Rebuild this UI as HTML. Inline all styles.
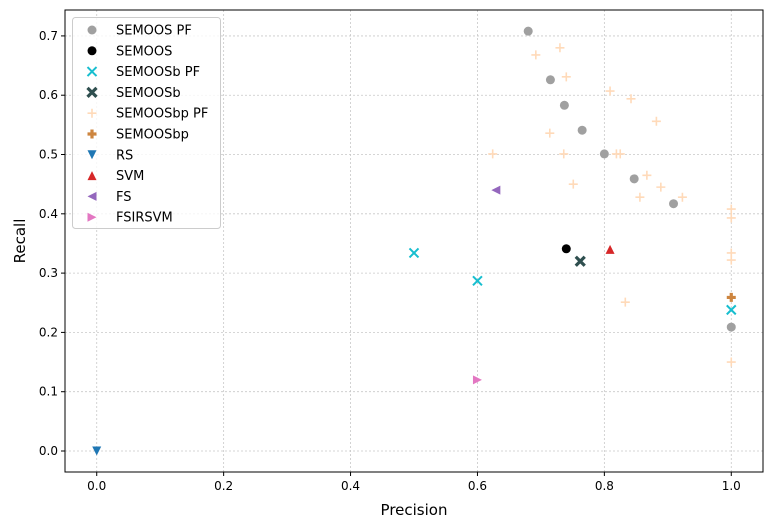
<!DOCTYPE html>
<html><head><meta charset="utf-8"><style>
body{margin:0;background:#fff;}
svg{display:block;font-family:"DejaVu Sans","Liberation Sans",sans-serif;}
</style></head><body>
<svg id="chart" width="772" height="529" xmlns="http://www.w3.org/2000/svg">
<g id="grid"></g>
<g id="marks"></g>
<g id="axes"></g>
<g id="legend"></g>
</svg>
<script>
const xTicks=[0.0,0.2,0.4,0.6,0.8,1.0];
const yTicks=[0.0,0.1,0.2,0.3,0.4,0.5,0.6,0.7];
const seriesNames=["SEMOOS PF","SEMOOS","SEMOOSb PF","SEMOOSb","SEMOOSbp PF","SEMOOSbp","RS","SVM","FS","FSIRSVM"];
const semoosPF=[[0.680,0.708],[0.715,0.626],[0.737,0.583],[0.765,0.541],[0.800,0.501],[0.847,0.459],[0.909,0.417],[1.0,0.209]];
const semoos=[[0.74,0.341]];
const semoosbPF=[[0.5,0.334],[0.6,0.287],[1.0,0.238]];
const semoosb=[[0.762,0.32]];
const semoosbpPF=[[0.692,0.668],[0.730,0.680],[0.740,0.631],[0.809,0.607],[0.842,0.594],[0.882,0.556],[0.714,0.536],[0.624,0.501],[0.736,0.501],[0.819,0.501],[0.825,0.501],[0.751,0.450],[0.867,0.465],[0.889,0.445],[0.856,0.428],[0.923,0.428],[1.0,0.408],[1.0,0.393],[1.0,0.334],[1.0,0.322],[0.833,0.251],[1.0,0.150]];
const semoosbp=[[1.0,0.259]];
const rs=[[0.0,0.0]];
const svm=[[0.809,0.34]];
const fs=[[0.629,0.44]];
const fsirsvm=[[0.6,0.12]];

const NS="http://www.w3.org/2000/svg";
const L=65,R=763,T=10,B=472;
const xMin=-0.05,xMax=1.05,yMin=-0.0354,yMax=0.7437;
const sx=v=>L+(v-xMin)/(xMax-xMin)*(R-L);
const sy=v=>B-(v-yMin)/(yMax-yMin)*(B-T);
function mk(tag,attrs,parent){const e=document.createElementNS(NS,tag);for(const k in attrs)e.setAttribute(k,attrs[k]);parent.appendChild(e);return e;}
const grid=document.getElementById('grid'),axes=document.getElementById('axes'),marks=document.getElementById('marks'),legend=document.getElementById('legend');

xTicks.forEach(t=>{const x=sx(t);
 const g=mk('line',{x1:x,x2:x,y1:T,y2:B,stroke:'#c8c8c8','stroke-dasharray':'2,2','stroke-width':0.8},grid);
 
 mk('line',{x1:x,x2:x,y1:B,y2:B+4,stroke:'#000'},axes);
 const tx=mk('text',{x:x,y:B+18,'text-anchor':'middle','font-size':12},axes);tx.textContent=t.toFixed(1);
 });
yTicks.forEach(t=>{const y=sy(t);
 const g=mk('line',{x1:L,x2:R,y1:y,y2:y,stroke:'#c8c8c8','stroke-dasharray':'2,2','stroke-width':0.8},grid);
 
 mk('line',{x1:L-4,x2:L,y1:y,y2:y,stroke:'#000'},axes);
 const tx=mk('text',{x:L-7,y:y+4,'text-anchor':'end','font-size':12},axes);tx.textContent=t.toFixed(1);
 });
const fr=mk('rect',{x:L,y:T,width:R-L,height:B-T,fill:'none',stroke:'#000','stroke-width':1},axes);

const xl=mk('text',{x:(L+R)/2,y:515,'text-anchor':'middle','font-size':15},axes);xl.textContent='Precision';

const yl=mk('text',{x:0,y:0,'text-anchor':'middle','font-size':15,transform:`translate(25,${(T+B)/2}) rotate(-90)`},axes);yl.textContent='Recall';


function marker(type,color,x,y,parent,alpha){
 let e;const s=4.5;
 if(type==='o')e=mk('circle',{cx:x,cy:y,r:s,fill:color},parent);
 else if(type==='x')e=mk('path',{d:`M${x-s} ${y-s}L${x+s} ${y+s}M${x-s} ${y+s}L${x+s} ${y-s}`,stroke:color,'stroke-width':2,fill:'none'},parent);
 else if(type==='X')e=mk('path',{d:`M${x-s} ${y-s}L${x+s} ${y+s}M${x-s} ${y+s}L${x+s} ${y-s}`,stroke:color,'stroke-width':3.2,fill:'none'},parent);
 else if(type==='+')e=mk('path',{d:`M${x-s} ${y}L${x+s} ${y}M${x} ${y-s}L${x} ${y+s}`,stroke:color,'stroke-width':1.6,fill:'none'},parent);
 else if(type==='P')e=mk('path',{d:`M${x-s} ${y}L${x+s} ${y}M${x} ${y-s}L${x} ${y+s}`,stroke:color,'stroke-width':3.2,fill:'none'},parent);
 else if(type==='v')e=mk('polygon',{points:`${x-s},${y-s} ${x+s},${y-s} ${x},${y+s}`,fill:color},parent);
 else if(type==='^')e=mk('polygon',{points:`${x-s},${y+s} ${x+s},${y+s} ${x},${y-s}`,fill:color},parent);
 else if(type==='<')e=mk('polygon',{points:`${x+s},${y-s} ${x+s},${y+s} ${x-s},${y}`,fill:color},parent);
 else if(type==='>')e=mk('polygon',{points:`${x-s},${y-s} ${x-s},${y+s} ${x+s},${y}`,fill:color},parent);
 if(alpha)e.setAttribute('opacity',alpha);
 return e;}
const styles=[['o','#a0a0a0'],['o','#000'],['x','#17becf'],['X','#2f4f4f'],['+','#ffdab9'],['P','#cd853f'],['v','#1f77b4'],['^','#d62728'],['<','#9467bd'],['>','#e377c2']];
const allData=[semoosPF,semoos,semoosbPF,semoosb,semoosbpPF,semoosbp,rs,svm,fs,fsirsvm];
allData.forEach((arr,i)=>{arr.forEach(p=>{
 const e=marker(styles[i][0],styles[i][1],sx(p[0]),sy(p[1]),marks);
 
 });});

const lb=mk('rect',{x:72.5,y:17.5,width:148,height:211,rx:3,fill:'#fff','fill-opacity':0.8,stroke:'#ccc'},legend);

seriesNames.forEach((n,i)=>{const y=30+i*20.8;
 const g=mk('g',{},legend);
 
 marker(styles[i][0],styles[i][1],92,y,g);
 const t=mk('text',{x:116,y:y+4.5,'font-size':13},g);t.textContent=n;});
</script>
</body></html>
